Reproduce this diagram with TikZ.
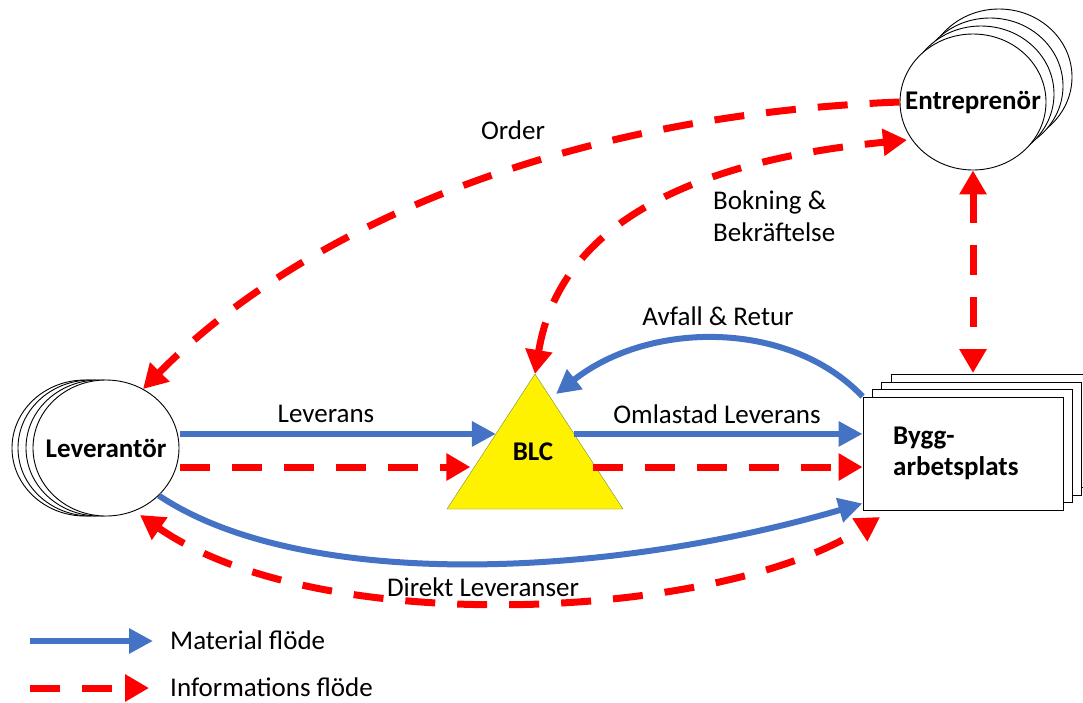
\documentclass[tikz,border=0pt]{standalone}
\usepackage{fontspec}
\setmainfont{Carlito}
\usetikzlibrary{arrows.meta,shapes.geometric,calc}
\definecolor{matblue}{HTML}{4472C4}
\definecolor{infored}{HTML}{FF0000}
\definecolor{blcedge}{RGB}{120,140,50}
\begin{document}
\begin{tikzpicture}[x=1pt,y=-1pt,
  mat/.style={draw=matblue, line width=6pt, -{Triangle[length=24pt,width=24pt]}},
  info/.style={draw=infored, line width=7pt, dash pattern=on 30pt off 22pt, -{Triangle[length=24pt,width=26pt]}},
  infoboth/.style={info, {Triangle[length=24pt,width=26pt]}-{Triangle[length=24pt,width=26pt]}},
  lbl/.style={font=\fontsize{27}{32}\selectfont, inner sep=0pt},
  boldlbl/.style={font=\fontsize{27}{31}\selectfont\bfseries, inner sep=0pt},
  actor/.style={ellipse, draw, line width=0.9pt, fill=white, minimum width=146pt, minimum height=136pt, inner sep=0pt},
  site/.style={rectangle, draw, line width=0.9pt, fill=white, minimum width=200pt, minimum height=113pt, inner sep=0pt},
]
\useasboundingbox (0,0) rectangle (1083,702);

% Leverantor stack
\foreach \dx in {-21,-15,-7}{
  \draw[line width=0.9pt, fill=white] (106+\dx,448) ellipse [x radius=73, y radius=68];
}
\node[actor] (lev) at (106,448) {};
\node[boldlbl] (levtxt) at (lev.center) {Leverantör};

% Entreprenor stack
\foreach \dx/\dy in {26/-25,17/-16,8/-8}{
  \draw[line width=0.9pt, fill=white] (973+\dx,102+\dy) ellipse [x radius=73, y radius=68];
}
\node[actor] (ent) at (973,102) {};
\node[boldlbl] (enttxt) at (ent.center) {Entreprenör};

% Byggarbetsplats stack
\foreach \dx/\dy in {28/-23,18/-15,9/-8}{
  \draw[line width=0.9pt, fill=white] (863+\dx,397+\dy) rectangle (1063+\dx,510+\dy);
}
\node[site] (bygg) at (963,453.5) {};
\node[boldlbl, align=left, anchor=west] (byggtxt) at (893,453) {Bygg-\\arbetsplats};

% BLC triangle
\coordinate (blcTop) at (535,374);
\coordinate (blcL) at (447,509);
\coordinate (blcR) at (623,509);
\draw[fill=yellow, draw=blcedge, thin] (blcTop) -- (blcL) -- (blcR) -- cycle;
\node[boldlbl] (blc) at (533,452) {BLC};

% endpoints
\coordinate (blcInB) at ($(blcTop)!0.444!(blcL)$);
\coordinate (blcInR) at ($(blcTop)!0.689!(blcL)$);
\coordinate (blcOutB) at ($(blcTop)!0.444!(blcR)$);
\coordinate (blcOutR) at ($(blcTop)!0.689!(blcR)$);

% straight flows
\draw[mat] (lev.east |- blcInB) ++(1,0) coordinate (levB) -- (blcInB);
\draw[info] (lev.east |- blcInR) ++(1,0) coordinate (levR) -- ([xshift=-4pt]blcInR);
\draw[mat] (blcOutB) -- (bygg.west |- blcOutB);
\draw[info] ([xshift=-3pt]blcOutR) -- (bygg.west |- blcOutR);

% Avfall & Retur
\draw[mat] (bygg.north west) .. controls (790,320) and (650,320) .. (556,394);

% direct material
\draw[mat] (lev.-42) .. controls (300,590) and (600,580) .. ([yshift=7pt]bygg.south west);

% Direkt Leveranser info
\draw[infoboth] (140,515) .. controls (320,640) and (720,620) .. (880,517);

% Order
\draw[info] (ent.west) .. controls (560,115) and (300,230) .. (143,389);

% Bokning
\draw[infoboth] (blcTop) .. controls (560,220) and (700,160) .. (907,140);

% vertical
\draw[infoboth] (ent.south) -- (973,373);

% labels
\node[lbl] (lOrder) at (513,130) {Order};
\node[lbl, align=left, anchor=west] (lBok) at (713,216) {Bokning \&\\Bekräftelse};
\node[lbl] (lAvf) at (718,316) {Avfall \& Retur};
\node[lbl] (lLev) at (326,414) {Leverans};
\node[lbl] (lOml) at (717,414) {Omlastad Leverans};
\node[lbl] (lDir) at (483,587) {Direkt Leveranser};

% legend
\coordinate (legA1) at (30,641);
\coordinate (legA2) at (153,641);
\coordinate (legB1) at (30,688);
\coordinate (legB2) at (149,688);
\draw[mat] (legA1) -- (legA2);
\draw[info] (legB1) -- (legB2);
\node[lbl, anchor=west] (legMat) at (170,640) {Material flöde};
\node[lbl, anchor=west] (legInfo) at (170,687) {Informations flöde};
\end{tikzpicture}
\end{document}
